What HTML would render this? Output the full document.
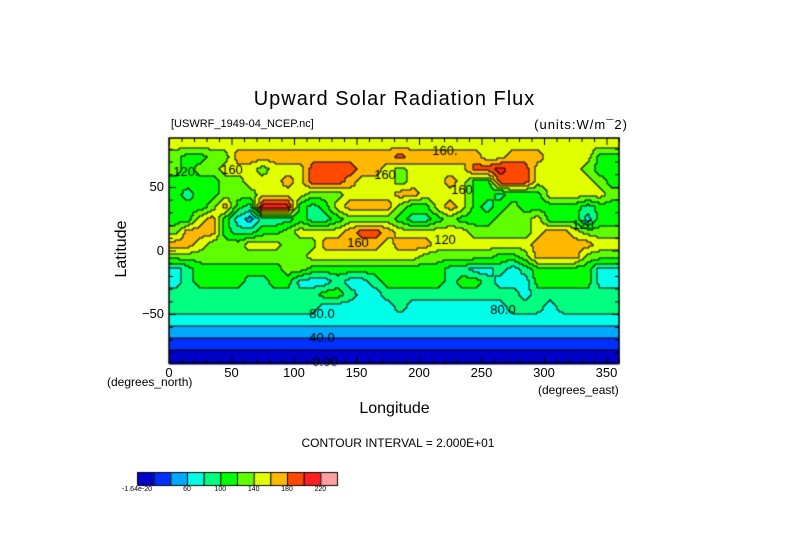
<!DOCTYPE html>
<html><head><meta charset="utf-8"><style>
body{margin:0;background:#fff;}
#root{position:relative;width:789px;height:558px;overflow:hidden;font-family:"Liberation Sans",sans-serif;color:#000;}
.t{position:absolute;white-space:nowrap;}
canvas{position:absolute;left:0;top:0;}
</style></head><body>
<div id="root">
<canvas id="cv" width="789" height="558"></canvas>
<div class="t" style="left:0;width:789px;text-align:center;top:88px;font-size:20px;letter-spacing:1px;">Upward Solar Radiation Flux</div>
<div class="t" style="left:171px;top:118px;font-size:11px;">[USWRF_1949-04_NCEP.nc]</div>
<div class="t" style="right:161px;top:117px;font-size:13px;letter-spacing:1px;">(units:W/m¯2)</div>
<div class="t" style="left:92px;top:240px;width:60px;text-align:center;font-size:16px;transform:rotate(-90deg);">Latitude</div>
<div class="t" style="left:0;width:789px;text-align:center;top:400px;font-size:16px;">Longitude</div>
<div class="t" style="left:107px;top:375px;font-size:12px;">(degrees_north)</div>
<div class="t" style="left:538px;top:383px;font-size:12px;">(degrees_east)</div>
<div class="t" style="left:0;width:796px;text-align:center;top:436px;font-size:12px;">CONTOUR INTERVAL = 2.000E+01</div>
<div id="ticks"></div>
</div>
<script>
const lonTicks=[0,50,100,150,200,250,300,350];
const latTicks=[50,0,-50];
const levels=[0,20,40,60,80,100,120,140,160,180,200,220];
const colors=["#0000c8","#0030ff","#00a8ff","#00ffe8","#00ff80","#00ff00","#60ff00","#e0ff00","#ffb800","#ff4800","#ff2020","#ffa0a0"];
const cbLabels=[["-1.64e-20",0],["60",3],["100",5],["140",7],["180",9],["220",11]];
const field=[
[150,150,150,150,150,150,150,150,150,150,150,150,150,150,150,150,150,150,150,150,150,150,150,150,150,150,150,150,150,150,150,150,150,150,150,150],
[130,110,110,130,130,170,170,170,170,170,170,170,170,170,170,170,170,170,190,170,170,170,170,170,170,150,150,170,170,170,150,150,150,150,110,110],
[130,110,130,130,150,150,150,130,150,150,150,190,190,190,190,170,170,150,130,150,150,150,150,150,190,190,210,190,190,150,150,150,150,130,110,110],
[110,110,110,110,130,130,150,150,150,170,150,190,190,190,170,150,150,150,130,150,150,150,170,150,110,110,190,190,190,150,150,150,150,150,130,110],
[110,90,110,110,130,130,130,150,150,150,150,130,130,130,150,150,150,150,170,170,150,150,150,150,110,110,90,110,110,110,150,150,150,150,150,130],
[110,110,110,130,170,110,90,210,210,210,110,90,110,150,170,170,170,170,130,110,110,150,170,150,110,90,110,130,110,110,110,110,110,90,110,110],
[110,110,150,170,110,70,50,90,90,90,110,90,90,110,130,130,130,130,110,90,90,110,130,110,110,110,130,130,130,150,110,110,110,70,110,110],
[130,170,170,170,110,90,90,110,110,130,150,150,150,150,170,190,190,170,150,150,150,150,150,150,130,130,130,130,130,150,170,170,150,130,130,130],
[170,170,150,130,130,130,150,150,150,130,130,130,170,170,170,170,170,150,170,170,170,150,150,150,150,150,150,150,150,170,170,170,170,170,150,150],
[130,130,130,130,130,130,130,130,130,130,130,150,150,150,150,150,150,150,150,150,130,130,130,130,130,130,110,110,130,170,170,170,170,130,130,130],
[70,90,110,110,110,110,110,110,110,130,130,110,110,110,110,110,110,110,110,110,110,110,90,90,70,70,90,70,90,110,110,110,110,110,70,70],
[70,90,110,110,110,110,90,90,110,110,70,70,70,90,70,70,90,110,110,110,110,110,90,110,110,90,70,70,70,110,110,110,110,110,70,70],
[90,90,90,90,90,90,90,90,90,90,90,90,110,110,90,70,70,90,90,90,90,90,90,90,90,90,90,90,70,90,90,90,90,90,90,90],
[90,90,90,90,90,90,90,90,90,90,90,90,70,70,70,70,70,70,90,70,70,70,70,70,70,70,70,90,90,90,70,90,90,90,90,90],
[70,70,70,70,70,70,70,70,70,70,70,70,70,70,70,70,70,70,70,70,70,70,70,70,70,70,70,70,70,70,70,70,70,70,70,70],
[50,50,50,50,50,50,50,50,50,50,50,50,50,50,50,50,50,50,50,50,50,50,50,50,50,50,50,50,50,50,50,50,50,50,50,50],
[30,30,30,30,30,30,30,30,30,30,30,30,30,30,30,30,30,30,30,30,30,30,30,30,30,30,30,30,30,30,30,30,30,30,30,30],
[10,10,10,10,10,10,10,10,10,10,10,10,10,10,10,10,10,10,10,10,10,10,10,10,10,10,10,10,10,10,10,10,10,10,10,10]
];
const contourLabels=[["160.",445,151],["120.",186,172],["160",232,170],["160",385,175],["160",462,190],["120",445,240],["80.0",322,314],["40.0",322,338],["0.00",325,362],["80.0",503,310],["120",583,225],["160",358,243]];
const X0=169,X1=619,Y0=138,Y1=363,LAT0=88.5;
const xs=lon=>X0+(lon/360)*(X1-X0);
const ys=lat=>Y0+(LAT0-lat)/(2*LAT0)*(Y1-Y0);
const cv=document.getElementById('cv');const ctx=cv.getContext('2d');
const R=field.length,C=field[0].length;
function sample(fx,fy){ // fx,fy in grid center coords
  fx=Math.max(0,Math.min(C-1,fx));fy=Math.max(0,Math.min(R-1,fy));
  const i=Math.floor(fx),j=Math.floor(fy),i2=Math.min(C-1,i+1),j2=Math.min(R-1,j+1),a=fx-i,b=fy-j;
  return (field[j][i]*(1-a)+field[j][i2]*a)*(1-b)+(field[j2][i]*(1-a)+field[j2][i2]*a)*b;
}
function bin(v){let k=0;for(let i=0;i<levels.length;i++)if(v>=levels[i])k=i;return k;}
const cs=2,W=X1-X0,H=Y1-Y0,nx=Math.ceil(W/cs),ny=Math.ceil(H/cs);
const B=[];
for(let j=0;j<ny;j++){B.push([]);for(let i=0;i<nx;i++){
  const px=(i+0.5)*cs/W*C-0.5,py=(j+0.5)*cs/H*R-0.5;
  B[j].push(bin(sample(px,py)));}}
for(let j=0;j<ny;j++)for(let i=0;i<nx;i++){ctx.fillStyle=colors[B[j][i]];ctx.fillRect(X0+i*cs,Y0+j*cs,cs+0.5,cs+0.5);}
ctx.strokeStyle='#000';ctx.lineWidth=1;ctx.beginPath();
for(let j=0;j<ny;j++)for(let i=0;i<nx;i++){
  if(i<nx-1&&B[j][i]!==B[j][i+1]){const x=X0+(i+1)*cs;ctx.moveTo(x,Y0+j*cs);ctx.lineTo(x,Y0+(j+1)*cs);}
  if(j<ny-1&&B[j][i]!==B[j+1][i]){const y=Y0+(j+1)*cs;ctx.moveTo(X0+i*cs,y);ctx.lineTo(X0+(i+1)*cs,y);}
}
ctx.stroke();
ctx.font='13px "Liberation Sans",sans-serif';ctx.textAlign='center';ctx.textBaseline='middle';
contourLabels.forEach(l=>{ctx.fillStyle='#000';ctx.fillText(l[0],l[1],l[2]);});
// frame & ticks
ctx.lineWidth=1.5;ctx.strokeRect(X0,Y0,W,H);ctx.lineWidth=1;ctx.beginPath();
for(let lon=0;lon<=360;lon+=10){const x=xs(lon)+0.5,L=lon%50===0?7:4;ctx.moveTo(x,Y0);ctx.lineTo(x,Y0+L);ctx.moveTo(x,Y1);ctx.lineTo(x,Y1-L);}
for(let lat=-80;lat<=80;lat+=10){const y=ys(lat)+0.5,L=lat%50===0?7:4;ctx.moveTo(X0,y);ctx.lineTo(X0+L,y);ctx.moveTo(X1,y);ctx.lineTo(X1-L,y);}
ctx.stroke();
const root=document.getElementById('root');
lonTicks.forEach(v=>{const d=document.createElement('div');d.className='t';


d.style.cssText='left:'+(xs(v)-20)+'px;width:40px;text-align:center;top:365px;font-size:13px;';d.textContent=v;root.appendChild(d);});
latTicks.forEach(v=>{const d=document.createElement('div');d.className='t';


d.style.cssText='left:120px;width:44px;text-align:right;top:'+(ys(v)-8)+'px;font-size:13px;';d.textContent=(v<0?'\u2212':'')+Math.abs(v);root.appendChild(d);});
// colorbar
const CB0=137,CBW=200/12,CBY=472,CBH=13;
colors.forEach((c,i)=>{ctx.fillStyle=c;ctx.fillRect(CB0+i*CBW,CBY,CBW,CBH);ctx.strokeStyle='#000';ctx.strokeRect(CB0+i*CBW+0.5,CBY+0.5,CBW,CBH);});
cbLabels.forEach(l=>{const d=document.createElement('div');d.className='t';


d.style.cssText='left:'+(CB0+l[1]*CBW-25)+'px;width:50px;text-align:center;top:486px;font-size:7px;';d.textContent=l[0];root.appendChild(d);});
</script>
</body></html>
